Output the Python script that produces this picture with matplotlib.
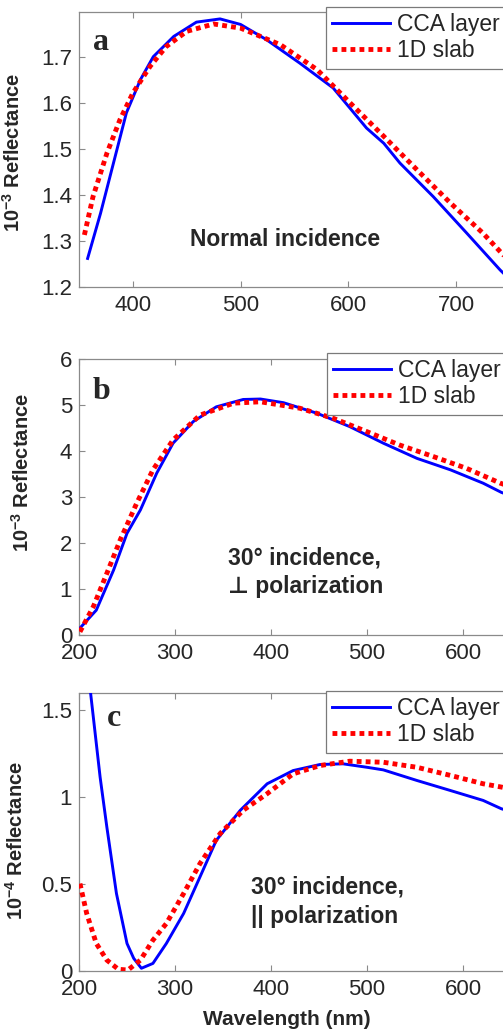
import matplotlib
matplotlib.use("Agg")
import matplotlib.pyplot as plt

plt.rcParams['font.family'] = ['Liberation Sans', 'DejaVu Sans']
plt.rcParams['mathtext.fontset'] = 'custom'
plt.rcParams['mathtext.rm'] = 'Liberation Sans'
plt.rcParams['mathtext.bf'] = 'Liberation Sans:bold'

# ---- Panel a: normal incidence ----
a_cca_x = [358, 370, 382, 394, 407, 419, 438, 459, 481, 500, 524, 555, 586, 617, 633, 648, 679, 710, 741, 752]
a_cca_y = [1.262, 1.360, 1.469, 1.578, 1.650, 1.700, 1.744, 1.775, 1.782, 1.770, 1.737, 1.686, 1.632, 1.545, 1.512, 1.469, 1.396, 1.317, 1.237, 1.212]
a_slab_x = [355, 363, 376, 388, 400, 416, 431, 450, 475, 500, 537, 571, 602, 633, 664, 695, 725, 741, 752]
a_slab_y = [1.313, 1.396, 1.491, 1.563, 1.621, 1.679, 1.722, 1.755, 1.771, 1.762, 1.726, 1.672, 1.599, 1.527, 1.454, 1.382, 1.317, 1.277, 1.250]

# ---- Panel b: 30 deg, perpendicular polarization ----
b_cca_x = [201, 218, 236, 250, 264, 281, 298, 319, 343, 371, 389, 413, 448, 482, 517, 552, 587, 621, 640, 660]
b_cca_y = [0.15, 0.54, 1.41, 2.21, 2.72, 3.52, 4.17, 4.64, 4.96, 5.12, 5.13, 5.05, 4.82, 4.53, 4.17, 3.84, 3.59, 3.30, 3.10, 2.95]
b_slab_x = [201, 215, 229, 243, 260, 277, 298, 326, 361, 389, 430, 465, 500, 534, 569, 604, 639, 660]
b_slab_y = [0.07, 0.62, 1.34, 2.07, 2.86, 3.59, 4.24, 4.78, 5.04, 5.07, 4.93, 4.71, 4.42, 4.13, 3.88, 3.62, 3.30, 3.15]

# ---- Panel c: 30 deg, parallel polarization ----
c_cca_x = [209, 222, 229, 239, 250, 257, 265, 277, 291, 309, 326, 343, 368, 396, 423, 451, 475, 500, 517, 552, 587, 621, 640, 660]
c_cca_y = [1.75, 1.115, 0.828, 0.445, 0.157, 0.071, 0.014, 0.042, 0.157, 0.330, 0.540, 0.751, 0.924, 1.077, 1.153, 1.188, 1.192, 1.172, 1.157, 1.096, 1.038, 0.981, 0.933, 0.90]
c_slab_x = [201, 208, 218, 229, 241, 251, 264, 277, 291, 309, 326, 347, 371, 396, 423, 451, 482, 517, 552, 587, 621, 640, 660]
c_slab_y = [0.502, 0.330, 0.157, 0.061, 0.008, 0.004, 0.061, 0.176, 0.272, 0.445, 0.617, 0.790, 0.924, 1.020, 1.134, 1.182, 1.207, 1.201, 1.172, 1.125, 1.077, 1.058, 1.035]

series_labels = ["CCA layer", "1D slab"]

W, H = 503, 1034
fig = plt.figure(figsize=(W / 100, H / 100), dpi=100)

TXT = '#262626'
SPINE = '#8a8a8a'


def make_axes(left_px, top_px, bottom_px, right_px):
    return fig.add_axes([left_px / W, (H - bottom_px) / H,
                         (right_px - left_px) / W, (bottom_px - top_px) / H])


panels = [
    dict(box=(79, 12, 287, 79 + 410 * 1.077), xlim=(350, 760), ylim=(1.2, 1.797),
         xticks=[400, 500, 600, 700], yticks=[1.2, 1.3, 1.4, 1.5, 1.6, 1.7],
         ytl=['1.2', '1.3', '1.4', '1.5', '1.6', '1.7'],
         data=(a_cca_x, a_cca_y, a_slab_x, a_slab_y),
         ylabel=r'10$^{\mathbf{-3}}$ Reflectance', ylab_xy=(24, 152),
         letter='a', letter_xy=(93, 42), leg_xy=(326, 7),
         note=["Normal incidence"], note_xy=(190, 239)),
    dict(box=(79, 359, 635, 559), xlim=(200, 700), ylim=(0, 6),
         xticks=[200, 300, 400, 500, 600], yticks=[0, 1, 2, 3, 4, 5, 6],
         ytl=['0', '1', '2', '3', '4', '5', '6'],
         data=(b_cca_x, b_cca_y, b_slab_x, b_slab_y),
         ylabel=r'10$^{\mathbf{-3}}$ Reflectance', ylab_xy=(33, 472),
         letter='b', letter_xy=(93, 391), leg_xy=(327, 353),
         note=["30° incidence,", "⊥ polarization"], note_xy=(228, 558)),
    dict(box=(79, 693, 970.7, 559), xlim=(200, 700), ylim=(0, 1.6),
         xticks=[200, 300, 400, 500, 600], yticks=[0, 0.5, 1, 1.5],
         ytl=['0', '0.5', '1', '1.5'],
         data=(c_cca_x, c_cca_y, c_slab_x, c_slab_y),
         ylabel=r'10$^{\mathbf{-4}}$ Reflectance', ylab_xy=(27, 840),
         letter='c', letter_xy=(107, 719), leg_xy=(326, 691),
         note=["30° incidence,", "|| polarization"], note_xy=(251, 887)),
]

for p in panels:
    l, t, b, r = p['box']
    ax = make_axes(l, t, b, r)
    cx, cy, sx, sy = p['data']
    ax.plot(cx, cy, color='#0000ff', lw=2.1, label=series_labels[0], zorder=3)
    ax.plot(sx, sy, color='#ff0000', lw=3.5, linestyle=(0, (1, 0.85)),
            label=series_labels[1], zorder=4)
    ax.set_xlim(*p['xlim'])
    ax.set_ylim(*p['ylim'])
    ax.set_xticks(p['xticks'])
    ax.set_yticks(p['yticks'])
    ax.set_yticklabels(p['ytl'])
    ax.tick_params(direction='in', length=4, width=0.8, color=SPINE,
                   labelsize=16, labelcolor=TXT, top=True, right=True)
    ax.tick_params(axis='x', pad=6)
    ax.tick_params(axis='y', pad=5)
    for s in ax.spines.values():
        s.set_color(SPINE)
        s.set_linewidth(0.9)
    ax.set_ylabel(p['ylabel'], fontsize=14.5, fontweight='bold', color=TXT)
    ax.yaxis.set_label_coords((p['ylab_xy'][0] - l) / (r - l),
                              (b - p['ylab_xy'][1]) / (b - t))
    fig.text(p['letter_xy'][0] / W, 1 - p['letter_xy'][1] / H, p['letter'],
             family='Liberation Serif', fontweight='bold', fontsize=23,
             color=TXT, ha='left', va='center')
    nx, ny = p['note_xy']
    for i, line in enumerate(p['note']):
        fig.text(nx / W, 1 - (ny + 29 * i) / H, line, fontsize=16.5,
                 fontweight='bold', color=TXT, ha='left', va='center',
                 family=['Liberation Sans', 'DejaVu Sans'])
    leg = ax.legend(loc='upper left',
                    bbox_to_anchor=(p['leg_xy'][0] / W, 1 - p['leg_xy'][1] / H),
                    bbox_transform=fig.transFigure, fontsize=16.5,
                    frameon=True, fancybox=False, borderaxespad=0,
                    handlelength=2.5, handletextpad=0.3, labelspacing=0.12,
                    borderpad=0.28)
    fr = leg.get_frame()
    fr.set_edgecolor('#7a7a7a')
    fr.set_linewidth(0.9)
    fr.set_alpha(1)
    for txt in leg.get_texts():
        txt.set_color(TXT)
    if p is panels[-1]:
        ax.set_xlabel("Wavelength (nm)", fontsize=15, fontweight='bold', color=TXT)
        ax.xaxis.set_label_coords((287 - l) / (r - l), (b - 1010) / (b - t))

fig.savefig("out.png", dpi=100)
